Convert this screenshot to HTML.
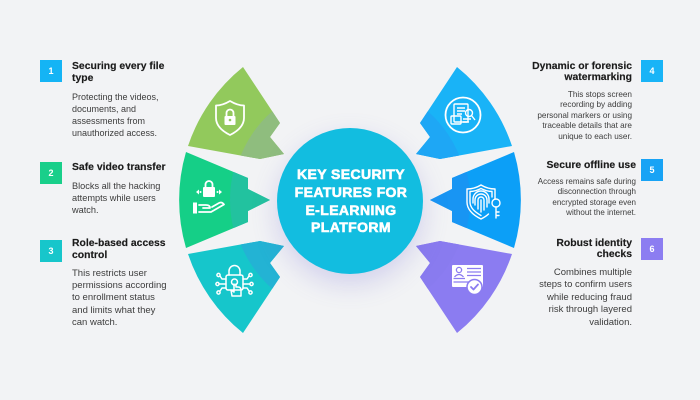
<!DOCTYPE html>
<html>
<head>
<meta charset="utf-8">
<style>
  html,body{margin:0;padding:0;}
  body{width:700px;height:400px;background:#f2f3f5;position:relative;overflow:hidden;font-family:"Liberation Sans",Arial,sans-serif;}
  .box{position:absolute;width:22px;height:22px;color:#fff;font-size:9px;font-weight:bold;text-align:center;line-height:22px;}
  .t{position:absolute;font-weight:bold;font-size:10.4px;line-height:11.5px;color:#1b1b1b;white-space:nowrap;-webkit-text-stroke:0.15px #1b1b1b;}
  .b{position:absolute;font-size:9.2px;line-height:12.2px;color:#3c3c3c;white-space:nowrap;}
  .r{text-align:right;}
  .circle{position:absolute;left:277px;top:128px;width:146px;height:146px;border-radius:50%;background:#12bde0;box-shadow:0 10px 26px rgba(110,100,210,0.24);}
  .ctext{position:absolute;left:277px;top:166px;width:148px;text-align:center;color:#fff;font-weight:bold;font-size:14px;line-height:17.8px;letter-spacing:0.4px;-webkit-text-stroke:0.6px #fff;white-space:nowrap;}
</style>
</head>
<body>
<svg width="700" height="400" style="position:absolute;left:0;top:0" xmlns="http://www.w3.org/2000/svg">
  <defs>
    <clipPath id="c1"><path d="M243,67 L280,123 L270,137 L284,154 L260,159 L188,146 A171,171 0 0 1 243,67 Z"/></clipPath>
    <clipPath id="c2"><path d="M186,152 L248,178 L248,189 L270,200 L248,211 L248,222 L186,248 A171,171 0 0 1 186,152 Z"/></clipPath>
    <clipPath id="c3"><path d="M243,333 L280,277 L270,263 L284,246 L260,241 L188,254 A171,171 0 0 0 243,333 Z"/></clipPath>
    <clipPath id="c4"><path d="M457,67 L420,123 L430,137 L416,154 L440,159 L512,146 A171,171 0 0 0 457,67 Z"/></clipPath>
    <clipPath id="c5"><path d="M514,152 L452,178 L452,189 L430,200 L452,211 L452,222 L514,248 A171,171 0 0 0 514,152 Z"/></clipPath>
    <clipPath id="c6"><path d="M457,333 L420,277 L430,263 L416,246 L440,241 L512,254 A171,171 0 0 1 457,333 Z"/></clipPath>
  </defs>

  <g clip-path="url(#c1)">
    <rect x="150" y="50" width="160" height="130" fill="#92c95c"/>
    <circle cx="350" cy="200" r="118" fill="#8fbd7e"/>
  </g>
  <g clip-path="url(#c2)">
    <rect x="150" y="140" width="160" height="120" fill="#15cf87"/>
    <circle cx="350" cy="200" r="120" fill="#22c29f"/>
  </g>
  <g clip-path="url(#c3)">
    <rect x="150" y="220" width="160" height="130" fill="#16c6cb"/>
    <circle cx="350" cy="200" r="118" fill="#23b3d4"/>
  </g>
  <g clip-path="url(#c4)">
    <rect x="390" y="50" width="160" height="130" fill="#19b3f7"/>
    <circle cx="350" cy="200" r="118" fill="#1ea7f5"/>
  </g>
  <g clip-path="url(#c5)">
    <rect x="390" y="140" width="160" height="120" fill="#0c9ff7"/>
    <circle cx="350" cy="200" r="120" fill="#1895f3"/>
  </g>
  <g clip-path="url(#c6)">
    <rect x="390" y="220" width="160" height="130" fill="#8b7cf1"/>
    <circle cx="350" cy="200" r="118" fill="#897bef"/>
  </g>

  <!-- icon 1 -->
  <g fill="none" stroke="#fff" stroke-width="1.8" stroke-linejoin="round">
    <path d="M230,101 C235,104 240,105.5 244,105.5 L244,118 C244,126 238,131 230,135 C222,131 216,126 216,118 L216,105.5 C220,105.5 225,104 230,101 Z"/>
    <path d="M226.5,116 L226.5,113 A3.5,3.5 0 0 1 233.5,113 L233.5,116"/>
  </g>
  <rect x="224.5" y="116" width="11" height="9" rx="1" fill="#fff"/>
  <circle cx="230" cy="120" r="1.3" fill="#92c95c"/>

  <!-- icon 2 -->
  <g fill="none" stroke="#fff" stroke-width="1.8" stroke-linecap="round" stroke-linejoin="round">
    <path d="M205.5,187 L205.5,184.5 A3.5,3.5 0 0 1 212.5,184.5 L212.5,187"/>
    <path d="M199,205 L206,205 Q210,205 210,208 L203,208"/>
    <path d="M199,212 L211,212 L224,204.5 Q222,201.5 219,203 L212,207"/>
  </g>
  <rect x="203" y="187" width="12" height="10" rx="1" fill="#fff"/>
  <rect x="193" y="202.5" width="4" height="11" fill="#fff"/>
  <path d="M196,192 L199,189.5 L199,194.5 Z M222,192 L219,189.5 L219,194.5 Z" fill="#fff"/>
  <circle cx="200.5" cy="192" r="1" fill="#fff"/>
  <circle cx="217.5" cy="192" r="1" fill="#fff"/>

  <!-- icon 3 -->
  <g fill="none" stroke="#fff" stroke-width="1.5" stroke-linecap="round" stroke-linejoin="round">
    <path d="M229,275 L229,271 A5.5,5.5 0 0 1 240,271 L240,275"/>
    <rect x="226" y="275" width="17" height="15" rx="2"/>
    <path d="M226,279 L222,279 L220,276 M226,284 L219,284 M226,288 L222,288 L220,291"/>
    <path d="M243,279 L247,279 L249,276 M243,284 L250,284 M243,288 L247,288 L249,291"/>
    <circle cx="218.5" cy="275" r="1.6"/><circle cx="217.5" cy="284" r="1.6"/><circle cx="218.5" cy="292.5" r="1.6"/>
    <circle cx="250.5" cy="275" r="1.6"/><circle cx="251.5" cy="284" r="1.6"/><circle cx="250.5" cy="292.5" r="1.6"/>
    <circle cx="234.5" cy="282" r="3"/>
    <path d="M234,284 L234,292 L231,290 L232,296 L241,296 L241,290 Q241,287 238,287 L236,287 L236,284"/>
  </g>

  <!-- icon 4 -->
  <g fill="none" stroke="#fff" stroke-width="1.4" stroke-linejoin="round">
    <circle cx="463" cy="115" r="17.5" stroke-width="1.8"/>
    <rect x="454" y="104" width="14" height="18" rx="1"/>
    <path d="M457,108 L465,108 M457,111 L465,111 M457,114 L462,114"/>
    <rect x="451" y="116" width="10" height="8" rx="1"/>
    <circle cx="469" cy="113" r="3.5"/>
    <path d="M471.5,115.5 L475,120"/>
    <path d="M463,119 L471,119 M463,122 L469,122"/>
  </g>

  <!-- icon 5 -->
  <g fill="none" stroke="#fff" stroke-width="1.4" stroke-linecap="round" stroke-linejoin="round">
    <path d="M481,185 C486,188 491,189 495,189 L495,199 M481,185 C476,188 471,189 467,189 L467,202 C467,210 473,215 481,219 C484,217.5 486.5,216 488.5,214"/>
    <path d="M481,188.5 C485,190.5 489,191.5 492,191.5 L492,197 M481,188.5 C477,190.5 473,191.5 470,191.5 L470,202 C470,208 475,212 481,215.5"/>
    <path d="M475,205 L475,200 A6,6 0 0 1 487,200 L487,207"/>
    <path d="M478,209 L478,200 A3,3 0 0 1 484,200 L484,210"/>
    <path d="M481,200 L481,212"/>
    <path d="M473,203 L473,199 A8,8 0 0 1 489,199 L489,203"/>
    <circle cx="496" cy="203" r="4"/>
    <path d="M496,207 L496,218 M496,212 L499,212 M496,215.5 L499,215.5"/>
  </g>

  <!-- icon 6 -->
  <rect x="452" y="265" width="31" height="22" rx="1" fill="#fff"/>
  <g fill="none" stroke="#8b7cf1" stroke-width="1.3">
    <circle cx="459" cy="270" r="2.6"/>
    <path d="M454.5,277 Q459,272 463.5,277"/>
    <path d="M453.5,278.5 L465,278.5 M453.5,282 L472,282 M467,268.5 L481,268.5 M467,272 L481,272 M467,275.5 L481,275.5"/>
  </g>
  <circle cx="474.5" cy="287" r="7.5" fill="#fff" stroke="#8b7cf1" stroke-width="1.5"/>
  <path d="M471,287 L473.5,289.5 L478,284.5" fill="none" stroke="#8b7cf1" stroke-width="1.8" stroke-linecap="round" stroke-linejoin="round"/>
</svg>

<div class="circle"></div>
<div class="ctext">KEY SECURITY<br>FEATURES FOR<br>E-LEARNING<br>PLATFORM</div>

<div class="box" style="left:40px;top:60px;background:#14b4f5;">1</div>
<div class="t" style="left:72px;top:61px;">Securing every file<br>type</div>
<div class="b" style="left:72px;top:91px;line-height:12px;font-size:9px;">Protecting the videos,<br>documents, and<br>assessments from<br>unauthorized access.</div>

<div class="box" style="left:40px;top:162px;background:#19cf8a;">2</div>
<div class="t" style="left:72px;top:162px;">Safe video transfer</div>
<div class="b" style="left:72px;top:180px;line-height:12px;font-size:9.2px;">Blocks all the hacking<br>attempts while users<br>watch.</div>

<div class="box" style="left:40px;top:240px;background:#17c6cb;">3</div>
<div class="t" style="left:72px;top:238px;">Role-based access<br>control</div>
<div class="b" style="left:72px;top:268px;line-height:12.2px;font-size:9.5px;">This restricts user<br>permissions according<br>to enrollment status<br>and limits what they<br>can watch.</div>

<div class="box" style="left:641px;top:60px;background:#19b4f7;">4</div>
<div class="t r" style="right:68px;top:61px;line-height:11px;">Dynamic or forensic<br>watermarking</div>
<div class="b r" style="right:68px;top:90px;line-height:10.4px;font-size:8.2px;">This stops screen<br>recording by adding<br>personal markers or using<br>traceable details that are<br>unique to each user.</div>

<div class="box" style="left:641px;top:159px;background:#18a3f5;">5</div>
<div class="t r" style="right:64px;top:160px;">Secure offline use</div>
<div class="b r" style="right:64px;top:177px;line-height:10.4px;font-size:8px;">Access remains safe during<br>disconnection through<br>encrypted storage even<br>without the internet.</div>

<div class="box" style="left:641px;top:238px;background:#8c7df1;">6</div>
<div class="t r" style="right:68px;top:238px;line-height:11px;">Robust identity<br>checks</div>
<div class="b r" style="right:68px;top:267px;line-height:12.4px;font-size:9.5px;">Combines multiple<br>steps to confirm users<br>while reducing fraud<br>risk through layered<br>validation.</div>
</body>
</html>
